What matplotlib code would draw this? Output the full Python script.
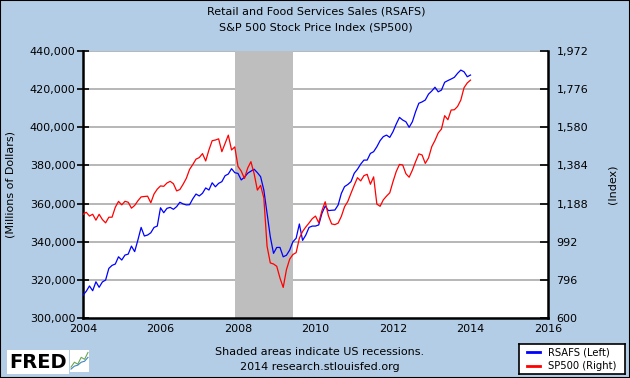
import matplotlib
matplotlib.use("Agg")
import matplotlib.pyplot as plt
from matplotlib.patches import Rectangle
from matplotlib.ticker import FuncFormatter
import numpy as np

# monthly data, Jan 2004 - Jan 2014
start_year = 2004
rsafs = [312.0, 314.0, 316.8, 314.3, 319.0, 316.1, 318.9, 319.9, 326.0, 327.6,
         328.3, 332.1, 330.4, 333.0, 333.5, 337.7, 334.8, 340.9, 347.5, 343.0,
         343.5, 344.7, 347.5, 348.2, 357.8, 355.2, 357.5, 358.0, 357.0, 358.4,
         360.7, 359.8, 359.3, 359.4, 362.5, 365.0, 364.0, 365.4, 368.2, 367.1,
         370.9, 368.8, 370.6, 371.5, 374.6, 375.5, 378.3, 376.2, 375.8, 372.4,
         373.8, 375.9, 377.0, 378.0, 376.2, 374.1, 367.1, 354.9, 342.6, 333.9,
         337.0, 337.0, 332.1, 332.9, 335.6, 340.0, 341.8, 349.3, 340.7, 343.5,
         347.5, 348.2, 348.2, 348.8, 354.9, 358.7, 356.3, 356.5, 356.6, 359.2,
         365.3, 368.9, 370.0, 371.5, 375.9, 378.0, 380.7, 382.8, 382.8, 386.3,
         387.2, 389.8, 393.0, 395.1, 395.9, 394.7, 397.7, 401.7, 405.2, 403.8,
         402.9, 400.0, 402.9, 408.2, 412.6, 413.3, 414.3, 417.4, 419.0, 421.0,
         418.6, 419.5, 423.6, 424.5, 425.3, 426.2, 428.3, 430.0, 429.1, 426.5,
         427.4]
rsafs = [v * 1000 for v in rsafs]

sp500 = [1132.5, 1143.4, 1124.0, 1133.1, 1102.8, 1132.8, 1105.9, 1088.9, 1117.7, 1118.1, 1168.9, 1199.2,
         1181.4, 1199.6, 1194.9, 1164.4, 1178.3, 1202.3, 1222.2, 1224.3, 1225.9, 1192.0, 1237.4, 1262.1,
         1278.7, 1276.7, 1293.7, 1302.2, 1290.0, 1253.1, 1260.2, 1287.2, 1317.8, 1363.4, 1388.6, 1416.4,
         1424.2, 1444.8, 1407.0, 1463.7, 1511.1, 1514.5, 1520.7, 1454.6, 1497.1, 1539.7, 1463.4, 1479.2,
         1378.8, 1354.9, 1316.9, 1370.5, 1403.2, 1341.3, 1257.3, 1281.5, 1217.0, 968.8, 883.0, 877.6,
         865.6, 805.2, 757.1, 848.2, 902.4, 926.1, 935.8, 1009.7, 1044.6, 1067.7, 1088.1, 1110.4,
         1123.6, 1089.2, 1152.1, 1197.3, 1125.1, 1083.4, 1079.8, 1087.3, 1122.1, 1171.6, 1198.9, 1241.5,
         1282.6, 1321.1, 1304.5, 1331.5, 1338.3, 1287.3, 1325.2, 1185.3, 1173.9, 1207.2, 1226.4, 1243.3,
         1300.6, 1352.5, 1389.2, 1386.4, 1341.3, 1323.5, 1359.8, 1403.5, 1443.4, 1437.8, 1394.5, 1422.3,
         1480.4, 1512.3, 1550.8, 1570.7, 1639.8, 1618.8, 1668.7, 1670.1, 1687.2, 1720.0, 1783.5, 1807.8,
         1822.4]

recession = (2007 + 11 / 12, 2009 + 5 / 12)
left_ticks = [300000, 320000, 340000, 360000, 380000, 400000, 420000, 440000]
right_ticks = [600, 796, 992, 1188, 1384, 1580, 1776, 1972]
year_ticks = [2004, 2006, 2008, 2010, 2012, 2014, 2016]

x = start_year + np.arange(len(rsafs)) / 12.0

bg = "#B4CDE6"
plt.rcParams["font.family"] = "DejaVu Sans"
plt.rcParams["font.size"] = 8

fig = plt.figure(figsize=(6.3, 3.78), dpi=100, facecolor=bg)
fig.patches.append(Rectangle((0, 0), 1, 1, transform=fig.transFigure, fill=False,
                             edgecolor="black", linewidth=1.5))

ax = fig.add_axes([83 / 630, 1 - 318 / 378, 465 / 630, 267 / 378])
ax.set_facecolor("white")
ax.axvspan(recession[0], recession[1], color="#BEBEBE", zorder=1, lw=0)
for t in left_ticks[1:]:
    ax.axhline(t, color="#AAAAAA", lw=1.2, zorder=0.5)

ax.plot(x, rsafs, color="#0000FF", lw=0.9, zorder=3)
ax.set_xlim(2004, 2016)
ax.set_ylim(300000, 440000)
ax.set_yticks(left_ticks)
ax.yaxis.set_major_formatter(FuncFormatter(lambda v, p: "{:,.0f}".format(v)))
ax.set_xticks(year_ticks)
ax.tick_params(axis="x", length=0, pad=4, labelsize=8)
ax.tick_params(axis="y", direction="inout", length=8, width=1.2, pad=1.5, labelsize=8)
ax.set_ylabel("(Millions of Dollars)", fontsize=8, labelpad=10)
for s in ["left", "bottom"]:
    ax.spines[s].set_linewidth(1.8)
ax.spines["top"].set_visible(False)

ax2 = ax.twinx()
ax2.plot(x, sp500, color="#FF0000", lw=0.9, zorder=3)
ax2.set_ylim(600, 1972)
ax2.set_yticks(right_ticks)
ax2.yaxis.set_major_formatter(FuncFormatter(lambda v, p: "{:,.0f}".format(v)))
ax2.tick_params(axis="y", direction="in", length=6, width=1.2, pad=6, labelsize=8)
ax2.set_ylabel("(Index)", fontsize=8, labelpad=14)
ax2.spines["right"].set_linewidth(1.8)
ax2.spines["top"].set_visible(False)
ax2.spines["left"].set_visible(False)
ax2.spines["bottom"].set_visible(False)

fig.text(316 / 630, 1 - 12 / 378, "Retail and Food Services Sales (RSAFS)", ha="center", va="center", fontsize=8)
fig.text(316 / 630, 1 - 27 / 378, "S&P 500 Stock Price Index (SP500)", ha="center", va="center", fontsize=8)
fig.text(320 / 630, 1 - 352 / 378, "Shaded areas indicate US recessions.", ha="center", va="center", fontsize=8)
fig.text(320 / 630, 1 - 367 / 378, "2014 research.stlouisfed.org", ha="center", va="center", fontsize=8)

# legend box
lg = fig.add_axes([519 / 630, 1 - 374 / 378, 106 / 630, 30 / 378])
lg.set_xlim(0, 1)
lg.set_ylim(0, 1)
lg.set_xticks([])
lg.set_yticks([])
for s in lg.spines.values():
    s.set_linewidth(1.2)
lg.plot([0.08, 0.2], [0.72, 0.72], color="#0000FF", lw=2)
lg.plot([0.08, 0.2], [0.28, 0.28], color="#FF0000", lw=2)
lg.text(0.27, 0.72, "RSAFS (Left)", va="center", fontsize=7.2)
lg.text(0.27, 0.28, "SP500 (Right)", va="center", fontsize=7.2)

# FRED logo
fig.text(9 / 630, 1 - 362 / 378, "FRED", fontsize=14, fontweight="bold", va="center", ha="left",
         bbox=dict(facecolor="white", edgecolor="none", pad=1.5))
logo = fig.add_axes([70 / 630, 1 - 372 / 378, 19 / 630, 22 / 378])
logo.set_facecolor("white")
logo.set_xticks([])
logo.set_yticks([])
for s in logo.spines.values():
    s.set_visible(False)
logo.plot([0, 1, 2, 3, 4, 5], [1, 2, 1.6, 3, 2.6, 4], color="#6AA84F", lw=0.8)
logo.plot([0, 1, 2, 3, 4, 5], [0.6, 1.2, 1.4, 2.0, 2.2, 3.0], color="#3D85C6", lw=0.8)
logo.set_xlim(-0.3, 5.3)
logo.set_ylim(0, 4.5)

fig.savefig("out.png", dpi=100, facecolor=bg)
